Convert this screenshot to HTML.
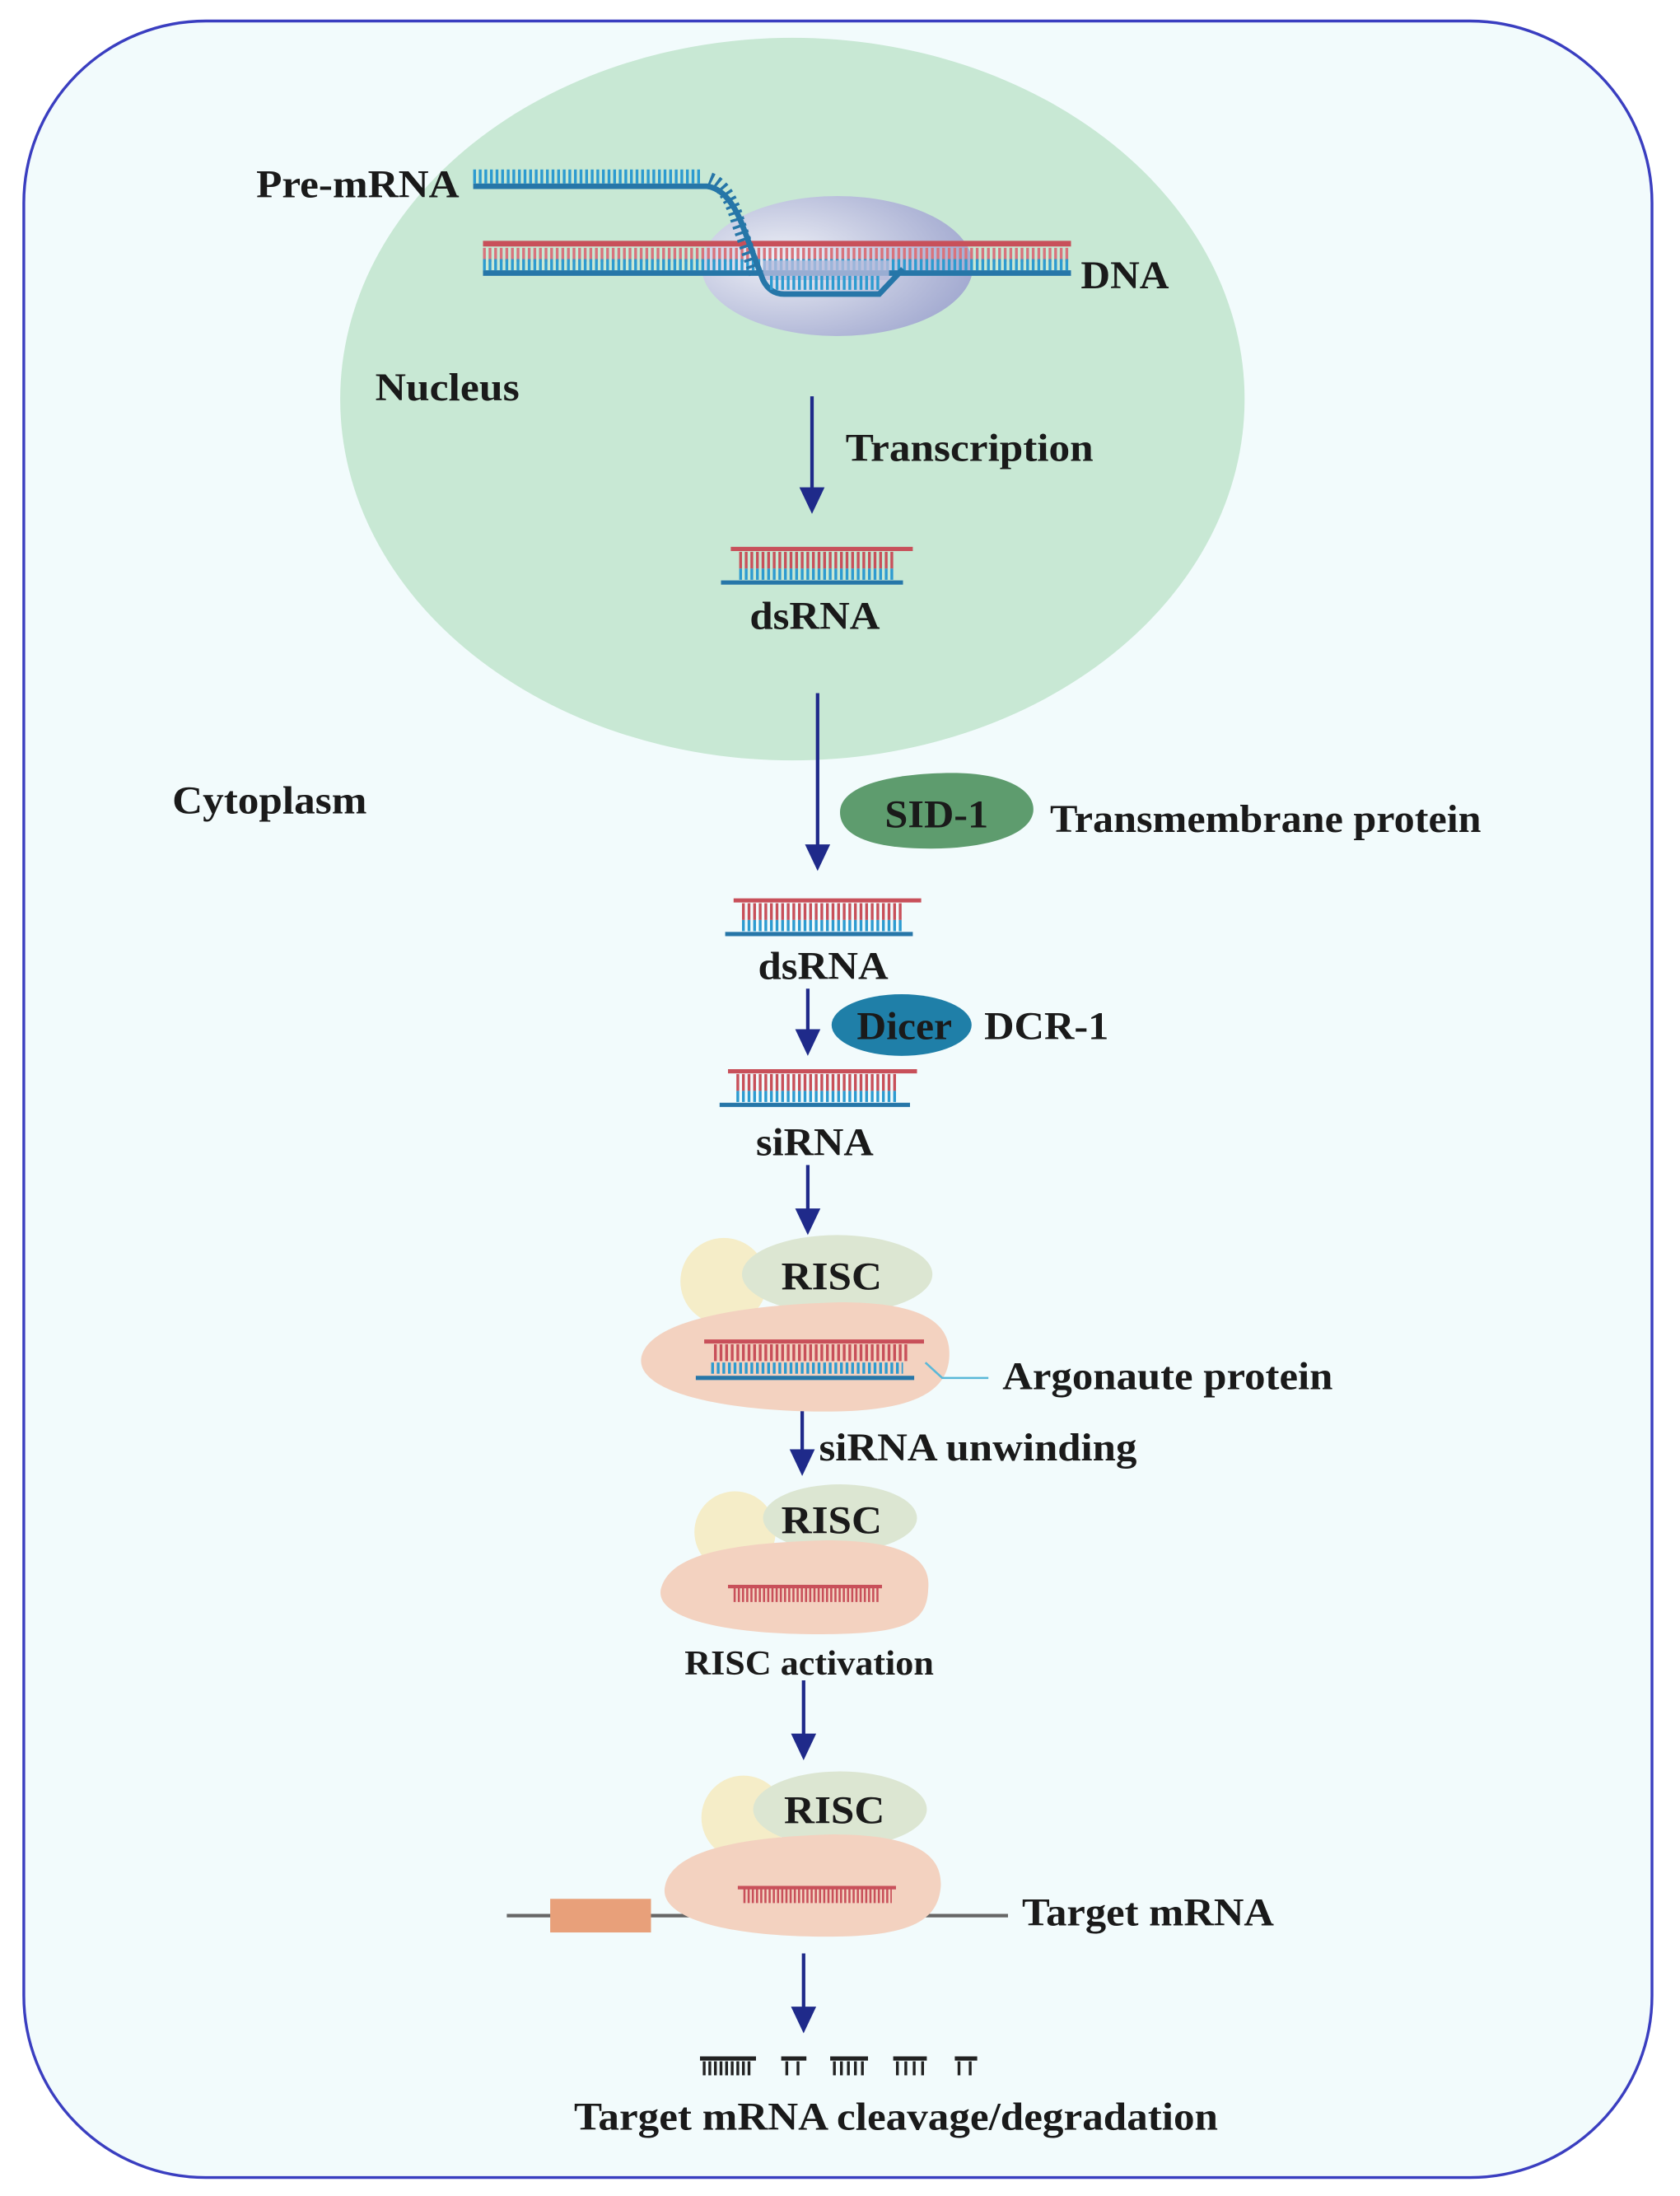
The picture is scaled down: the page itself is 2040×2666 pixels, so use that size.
<!DOCTYPE html>
<html><head><meta charset="utf-8"><style>html,body{margin:0;padding:0;background:#fff}svg{display:block}text{font-family:"Liberation Serif",serif;font-weight:bold;fill:#1a1a1a}</style></head><body>
<svg width="2040" height="2666" viewBox="0 0 1200 1568.2" preserveAspectRatio="none" xmlns="http://www.w3.org/2000/svg">
<defs>
<radialGradient id="pol" cx="0.3" cy="0.45" r="0.8"><stop offset="0" stop-color="#eef0f6"/><stop offset="1" stop-color="#9aa2cc"/></radialGradient>
</defs>
<rect x="17" y="15" width="1163" height="1540" rx="130" fill="#f2fbfc" stroke="#3a3ec0" stroke-width="2"/>
<ellipse cx="566" cy="285" rx="323" ry="258" fill="#c8e8d4"/>
<ellipse cx="598" cy="190" rx="97" ry="50" fill="url(#pol)"/>
<!-- DNA -->
<g>
<line x1="345" y1="174" x2="765" y2="174" stroke="#c8505a" stroke-width="4"/>
<line x1="345" y1="182" x2="765" y2="182" stroke="#d9737c" stroke-width="10" stroke-dasharray="2 2"/>
<line x1="345" y1="189" x2="765" y2="189" stroke="#2d9bd0" stroke-width="8" stroke-dasharray="2 2"/>
<line x1="345" y1="195" x2="765" y2="195" stroke="#2676a8" stroke-width="4"/>
<rect x="545" y="186" width="90" height="14" fill="#b6bcdc" opacity="0.8"/>
<path d="M338,133 L505,133 Q520,135 530,160 L545,200 Q550,210 560,210 L628,210 L645,192" fill="none" stroke="#2676a8" stroke-width="4"/>
<line x1="338" y1="126" x2="502" y2="126" stroke="#2d9bd0" stroke-width="10" stroke-dasharray="2 2"/>
<path d="M507,128 Q520,133 527,158 L540,196" fill="none" stroke="#2676a8" stroke-width="10" stroke-dasharray="2 3"/>
<line x1="550" y1="202" x2="628" y2="202" stroke="#2d9bd0" stroke-width="10" stroke-dasharray="2 2"/>
</g>
<text x="183" y="141" font-size="28" textLength="145" lengthAdjust="spacingAndGlyphs">Pre-mRNA</text>
<text x="772" y="206" font-size="28" textLength="63" lengthAdjust="spacingAndGlyphs">DNA</text>
<text x="268" y="286" font-size="28" textLength="103" lengthAdjust="spacingAndGlyphs">Nucleus</text>
<text x="604" y="329" font-size="28" textLength="177" lengthAdjust="spacingAndGlyphs">Transcription</text>
<g fill="#1f2a8a" stroke="#1f2a8a" stroke-width="2.5">
<line x1="580" y1="283" x2="580" y2="350"/><polygon stroke="none" points="571,348 589,348 580,367"/>
<line x1="584" y1="495" x2="584" y2="605"/><polygon stroke="none" points="575,603 593,603 584,622"/>
<line x1="577" y1="706" x2="577" y2="737"/><polygon stroke="none" points="568,735 586,735 577,754"/>
<line x1="577" y1="832" x2="577" y2="865"/><polygon stroke="none" points="568,863 586,863 577,882"/>
<line x1="573" y1="1000" x2="573" y2="1037"/><polygon stroke="none" points="564,1035 582,1035 573,1054"/>
<line x1="574" y1="1200" x2="574" y2="1240"/><polygon stroke="none" points="565,1238 583,1238 574,1257"/>
<line x1="574" y1="1395" x2="574" y2="1435"/><polygon stroke="none" points="565,1433 583,1433 574,1452"/>
</g>
<!-- dsRNA 1 -->
<g>
<line x1="522" y1="392" x2="652" y2="392" stroke="#c8505a" stroke-width="3"/>
<line x1="528" y1="400" x2="640" y2="400" stroke="#c8505a" stroke-width="12" stroke-dasharray="2 2"/>
<line x1="528" y1="410" x2="640" y2="410" stroke="#2d9bd0" stroke-width="8" stroke-dasharray="2 2"/>
<line x1="515" y1="416" x2="645" y2="416" stroke="#2676a8" stroke-width="3"/>
</g>
<text x="582" y="449" font-size="28" text-anchor="middle" textLength="93" lengthAdjust="spacingAndGlyphs">dsRNA</text>
<text x="123" y="581" font-size="28" textLength="139" lengthAdjust="spacingAndGlyphs">Cytoplasm</text>
<path d="M600,580 C600,560 640,552 680,552 C720,552 740,565 738,580 C735,598 700,606 665,606 C625,606 600,598 600,580 Z" fill="#5e9c6e"/>
<text x="669" y="591" font-size="28" text-anchor="middle" textLength="74" lengthAdjust="spacingAndGlyphs">SID-1</text>
<text x="750" y="594" font-size="28" textLength="308" lengthAdjust="spacingAndGlyphs">Transmembrane protein</text>
<!-- dsRNA 2 -->
<g>
<line x1="524" y1="643" x2="658" y2="643" stroke="#c8505a" stroke-width="3"/>
<line x1="530" y1="651" x2="645" y2="651" stroke="#c8505a" stroke-width="12" stroke-dasharray="2 2"/>
<line x1="530" y1="661" x2="645" y2="661" stroke="#2d9bd0" stroke-width="8" stroke-dasharray="2 2"/>
<line x1="518" y1="667" x2="652" y2="667" stroke="#2676a8" stroke-width="3"/>
</g>
<text x="588" y="699" font-size="28" text-anchor="middle" textLength="93" lengthAdjust="spacingAndGlyphs">dsRNA</text>
<ellipse cx="644" cy="732" rx="50" ry="22" fill="#1f7fa8"/>
<text x="646" y="742" font-size="28" text-anchor="middle" textLength="68" lengthAdjust="spacingAndGlyphs">Dicer</text>
<text x="703" y="742" font-size="28" textLength="89" lengthAdjust="spacingAndGlyphs">DCR-1</text>
<!-- siRNA -->
<g>
<line x1="520" y1="765" x2="655" y2="765" stroke="#c8505a" stroke-width="3"/>
<line x1="526" y1="773" x2="642" y2="773" stroke="#c8505a" stroke-width="12" stroke-dasharray="2 2"/>
<line x1="526" y1="783" x2="642" y2="783" stroke="#2d9bd0" stroke-width="8" stroke-dasharray="2 2"/>
<line x1="514" y1="789" x2="650" y2="789" stroke="#2676a8" stroke-width="3"/>
</g>
<text x="582" y="825" font-size="28" text-anchor="middle" textLength="84" lengthAdjust="spacingAndGlyphs">siRNA</text>
<!-- RISC 1 -->
<circle cx="517" cy="915" r="31" fill="#f5edc8"/>
<ellipse cx="598" cy="910" rx="68" ry="28" fill="#dce6d2"/>
<path d="M458,970 C462,945 520,932 600,930 C660,930 680,945 678,970 C676,995 650,1008 590,1008 C520,1008 455,995 458,970 Z" fill="#f3d2c0"/>
<text x="594" y="921" font-size="28" text-anchor="middle" textLength="72" lengthAdjust="spacingAndGlyphs">RISC</text>
<g>
<line x1="503" y1="958" x2="660" y2="958" stroke="#c8505a" stroke-width="3"/>
<line x1="510" y1="966" x2="650" y2="966" stroke="#c8505a" stroke-width="12" stroke-dasharray="2 2"/>
<line x1="508" y1="977" x2="645" y2="977" stroke="#2d9bd0" stroke-width="8" stroke-dasharray="2 2"/>
<line x1="497" y1="984" x2="653" y2="984" stroke="#2676a8" stroke-width="3"/>
</g>
<polyline points="661,973 673,984 706,984" fill="none" stroke="#5ab8d8" stroke-width="1.5"/>
<text x="716" y="992" font-size="28" textLength="236" lengthAdjust="spacingAndGlyphs">Argonaute protein</text>
<text x="585" y="1043" font-size="28" textLength="227" lengthAdjust="spacingAndGlyphs">siRNA unwinding</text>
<!-- RISC 2 -->
<circle cx="525" cy="1094" r="29" fill="#f5edc8"/>
<ellipse cx="600" cy="1084" rx="55" ry="24" fill="#dce6d2"/>
<path d="M472,1135 C478,1110 520,1102 590,1100 C650,1100 665,1115 663,1135 C662,1160 645,1167 585,1167 C515,1167 468,1155 472,1135 Z" fill="#f3d2c0"/>
<text x="594" y="1095" font-size="28" text-anchor="middle" textLength="72" lengthAdjust="spacingAndGlyphs">RISC</text>
<line x1="520" y1="1133" x2="630" y2="1133" stroke="#c8505a" stroke-width="2.5"/>
<line x1="524" y1="1139" x2="628" y2="1139" stroke="#c8505a" stroke-width="10" stroke-dasharray="1.5 1.5"/>
<text x="578" y="1196" font-size="25" text-anchor="middle" textLength="178" lengthAdjust="spacingAndGlyphs">RISC activation</text>
<!-- RISC 3 -->
<line x1="362" y1="1368" x2="720" y2="1368" stroke="#666" stroke-width="2.5"/>
<rect x="393" y="1356" width="72" height="24" fill="#e8a07a"/>
<circle cx="531" cy="1298" r="30" fill="#f5edc8"/>
<ellipse cx="600" cy="1292" rx="62" ry="27" fill="#dce6d2"/>
<path d="M475,1347 C480,1322 525,1312 595,1310 C655,1310 673,1325 672,1347 C670,1372 650,1383 590,1383 C520,1383 470,1370 475,1347 Z" fill="#f3d2c0"/>
<text x="596" y="1302" font-size="28" text-anchor="middle" textLength="72" lengthAdjust="spacingAndGlyphs">RISC</text>
<line x1="527" y1="1348" x2="640" y2="1348" stroke="#c8505a" stroke-width="2.5"/>
<line x1="531" y1="1354" x2="637" y2="1354" stroke="#c8505a" stroke-width="10" stroke-dasharray="1.5 1.5"/>
<text x="730" y="1375" font-size="28" textLength="180" lengthAdjust="spacingAndGlyphs">Target mRNA</text>
<!-- fragments -->
<g stroke="#222">
<line x1="500" y1="1470" x2="540" y2="1470" stroke-width="3"/><line x1="502" y1="1477" x2="536" y2="1477" stroke-width="10" stroke-dasharray="2 2"/>
<line x1="558" y1="1470" x2="576" y2="1470" stroke-width="3"/><line x1="561" y1="1477" x2="574" y2="1477" stroke-width="10" stroke-dasharray="2 6"/>
<line x1="593" y1="1470" x2="620" y2="1470" stroke-width="3"/><line x1="595" y1="1477" x2="618" y2="1477" stroke-width="10" stroke-dasharray="2 3"/>
<line x1="638" y1="1470" x2="662" y2="1470" stroke-width="3"/><line x1="640" y1="1477" x2="660" y2="1477" stroke-width="10" stroke-dasharray="2 4"/>
<line x1="682" y1="1470" x2="698" y2="1470" stroke-width="3"/><line x1="684" y1="1477" x2="696" y2="1477" stroke-width="10" stroke-dasharray="2 6"/>
</g>
<text x="640" y="1521" font-size="28" text-anchor="middle" textLength="460" lengthAdjust="spacingAndGlyphs">Target mRNA cleavage/degradation</text>
</svg>
</body></html>
